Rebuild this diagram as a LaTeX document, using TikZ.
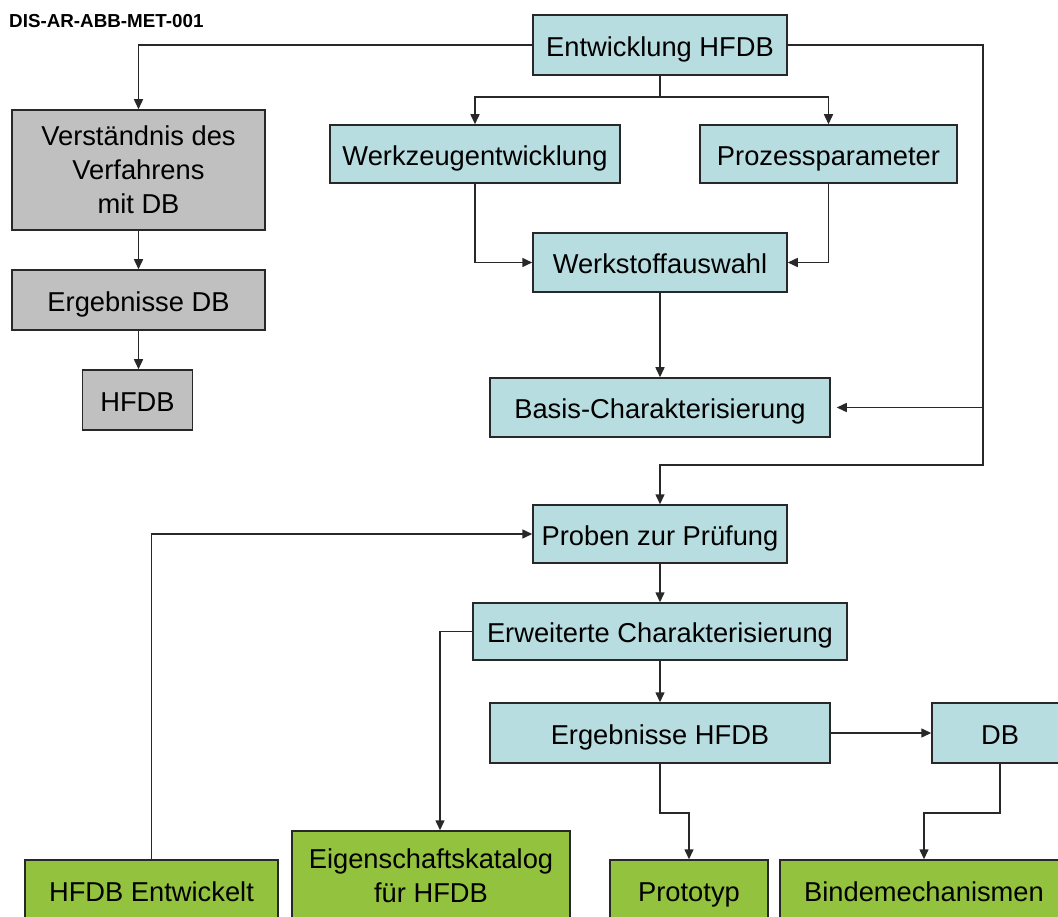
\documentclass[tikz,border=0pt]{standalone}
\usepackage{fontspec}
\setmainfont{Liberation Sans}
\usetikzlibrary{arrows.meta}
\definecolor{boxblue}{RGB}{184,221,224}
\definecolor{boxgray}{RGB}{192,192,192}
\definecolor{boxgreen}{RGB}{147,194,62}
\definecolor{linecol}{RGB}{40,40,40}
\tikzset{
  box/.style={draw=linecol, line width=1.5pt, inner sep=0pt, align=center,
    font=\fontsize{27.3}{34}\selectfont, text=black},
  one/.style={text height=28pt, text depth=5.4pt},
  bluebox/.style={box, fill=boxblue},
  graybox/.style={box, fill=boxgray},
  greenbox/.style={box, fill=boxgreen},
  conn/.style={draw=linecol, line width=1.5pt},
  arr/.style={conn, -{Triangle[length=10pt,width=9pt]}},
}
\begin{document}
\begin{tikzpicture}[x=1pt,y=-1pt]
\useasboundingbox (0,0) rectangle (1058,917);
\clip (0,0) rectangle (1058,917);
\fill[white] (0,0) rectangle (1058,917);

\node[anchor=west, font=\bfseries\fontsize{18.8}{20}\selectfont, inner sep=0pt] (title) at (9,21) {DIS-AR-ABB-MET-001};

\node[bluebox, one, minimum width=254pt, minimum height=60pt] (ent) at (660,45) {Entwicklung HFDB};
\node[graybox, minimum width=253pt, minimum height=120pt] (ver) at (138.5,170) {Verständnis des\\Verfahrens\\mit DB};
\node[graybox, one, minimum width=253pt, minimum height=60pt] (erg) at (138.5,300) {Ergebnisse DB};
\node[graybox, one, minimum width=110pt, minimum height=60pt] (hfdb) at (137.5,400) {HFDB};
\node[bluebox, one, minimum width=290pt, minimum height=58pt] (wz) at (475,154) {Werkzeugentwicklung};
\node[bluebox, one, minimum width=257pt, minimum height=58pt] (pp) at (828.5,154) {Prozessparameter};
\node[bluebox, one, minimum width=254pt, minimum height=59pt] (ws) at (660,262.5) {Werkstoffauswahl};
\node[bluebox, one, minimum width=340pt, minimum height=59pt] (basis) at (660,407.5) {Basis-Charakterisierung};
\node[bluebox, one, minimum width=254pt, minimum height=58pt] (proben) at (660,534) {Proben zur Prüfung};
\node[bluebox, one, minimum width=374pt, minimum height=57pt] (erw) at (660,631.5) {Erweiterte Charakterisierung};
\node[bluebox, one, minimum width=340pt, minimum height=60pt] (ergh) at (660,733) {Ergebnisse HFDB};
\node[bluebox, one, minimum width=136pt, minimum height=60pt] (db) at (1000,733) {DB};
\node[greenbox, one, minimum width=253pt, minimum height=60pt] (hent) at (151.5,890) {HFDB Entwickelt};
\node[greenbox, minimum width=278pt, minimum height=90pt] (eig) at (431,876) {Eigenschaftskatalog\\für HFDB};
\node[greenbox, one, minimum width=158pt, minimum height=60pt] (proto) at (689,890) {Prototyp};
\node[greenbox, one, minimum width=288pt, minimum height=60pt] (binde) at (924,890) {Bindemechanismen};

\coordinate (split) at (660,97);
\coordinate (r1) at (983,407.5);
\coordinate (r2) at (983,465);
\coordinate (p1) at (660,465);

\draw[arr] (ent.west) -| (ver.north);
\draw[conn] (ent.south) -- (split);
\draw[arr] (split) -| (wz.north);
\draw[arr] (split) -| (pp.north);
\draw[arr] (ent.east) -| (r1) -- ([xshift=6pt]basis.east);
\draw[arr] (r1) -- (r2) -- (p1) -- (proben.north);
\draw[arr] (wz.south) |- (ws.west);
\draw[arr] (pp.south) |- (ws.east);
\draw[arr] (ws.south) -- (basis.north);
\draw[arr] (ver.south) -- (erg.north);
\draw[arr] (erg.south) -- (erg.south |- hfdb.north);
\draw[arr] (hent.north) |- (proben.west);
\draw[arr] (proben.south) -- (erw.north);
\draw[arr] (erw.west) -| ([xshift=9pt]eig.north);
\draw[arr] (erw.south) -- (ergh.north);
\draw[arr] (ergh.east) -- (db.west);
\draw[arr] (ergh.south) -- ++(0,49) -| (proto.north);
\draw[arr] (db.south) -- ++(0,49) -| (binde.north);
\end{tikzpicture}
\end{document}
